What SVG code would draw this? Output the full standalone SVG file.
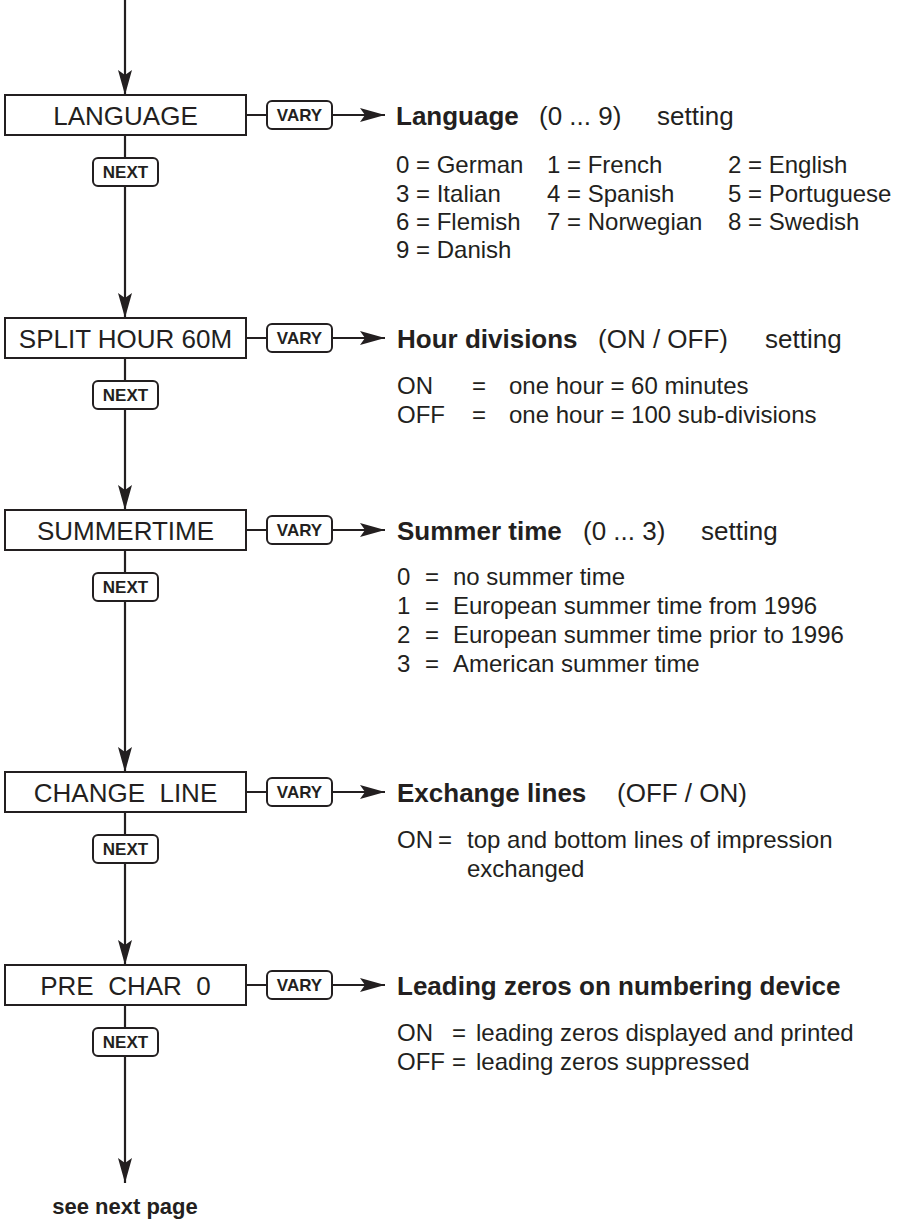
<svg xmlns="http://www.w3.org/2000/svg" width="900" height="1222" viewBox="0 0 900 1222">
<style>
text{font-family:"Liberation Sans",Arial,sans-serif;fill:#231f20}
.box{fill:#fff;stroke:#231f20;stroke-width:2}
.btn{fill:#fff;stroke:#231f20;stroke-width:2}
.bl{font-size:26px;text-anchor:middle}
.bt{font-size:17px;font-weight:bold;text-anchor:middle}
.h{font-size:26px}
.hb{font-size:26px;font-weight:bold}
.t{font-size:24px}
.c{stroke:#231f20;stroke-width:2.2;fill:none}
</style>
<defs>
<marker id="ah" viewBox="0 0 25 14" refX="25" refY="7" markerWidth="25" markerHeight="14" markerUnits="userSpaceOnUse" orient="auto">
<path d="M0,0 L25,7 L0,14 L5,7 Z" fill="#231f20"/>
</marker>
</defs>
<g id="connectors">
<line class="c" x1="125" y1="0" x2="125" y2="95" marker-end="url(#ah)"/>
<line class="c" x1="125" y1="135" x2="125" y2="318" marker-end="url(#ah)"/>
<line class="c" x1="125" y1="358" x2="125" y2="510" marker-end="url(#ah)"/>
<line class="c" x1="125" y1="550" x2="125" y2="772" marker-end="url(#ah)"/>
<line class="c" x1="125" y1="812" x2="125" y2="965" marker-end="url(#ah)"/>
<line class="c" x1="125" y1="1005" x2="125" y2="1183" marker-end="url(#ah)"/>
<line class="c" x1="246" y1="115" x2="385" y2="115" marker-end="url(#ah)"/>
<line class="c" x1="246" y1="338" x2="385" y2="338" marker-end="url(#ah)"/>
<line class="c" x1="246" y1="530" x2="385" y2="530" marker-end="url(#ah)"/>
<line class="c" x1="246" y1="792" x2="385" y2="792" marker-end="url(#ah)"/>
<line class="c" x1="246" y1="985" x2="385" y2="985" marker-end="url(#ah)"/>
</g>
<g id="language">
<rect class="box" x="5" y="95" width="241" height="40"/>
<text class="bl" x="125.5" y="125">LANGUAGE</text>
</g>
<g id="language-vary"><rect class="btn" x="267" y="101" width="65" height="28" rx="5"/><text class="bt" x="299.5" y="121">VARY</text></g>
<g id="language-next"><rect class="btn" x="93" y="158" width="65" height="28" rx="5"/><text class="bt" x="125.5" y="178">NEXT</text></g>
<g id="language-info">
<text class="h" x="396" y="125"><tspan class="hb">Language</tspan><tspan x="539">(0 ... 9)</tspan><tspan x="657">setting</tspan></text>
<text class="t" x="396" y="173">0 = German</text><text class="t" x="547" y="173">1 = French</text><text class="t" x="728" y="173">2 = English</text>
<text class="t" x="396" y="202">3 = Italian</text><text class="t" x="547" y="202">4 = Spanish</text><text class="t" x="728" y="202">5 = Portuguese</text>
<text class="t" x="396" y="230">6 = Flemish</text><text class="t" x="547" y="230">7 = Norwegian</text><text class="t" x="728" y="230">8 = Swedish</text>
<text class="t" x="396" y="258">9 = Danish</text>
</g>
<g id="split">
<rect class="box" x="5" y="318" width="241" height="40"/>
<text class="bl" x="125.5" y="348">SPLIT HOUR 60M</text>
</g>
<g id="split-vary"><rect class="btn" x="267" y="324" width="65" height="28" rx="5"/><text class="bt" x="299.5" y="344">VARY</text></g>
<g id="split-next"><rect class="btn" x="93" y="381" width="65" height="28" rx="5"/><text class="bt" x="125.5" y="401">NEXT</text></g>
<g id="split-info">
<text class="h" x="397" y="348"><tspan class="hb">Hour divisions</tspan><tspan x="598">(ON / OFF)</tspan><tspan x="765">setting</tspan></text>
<text class="t" x="397" y="394">ON</text><text class="t" x="472" y="394">=</text><text class="t" x="509" y="394">one hour = 60 minutes</text>
<text class="t" x="397" y="423">OFF</text><text class="t" x="472" y="423">=</text><text class="t" x="509" y="423">one hour = 100 sub-divisions</text>
</g>
<g id="summertime">
<rect class="box" x="5" y="510" width="241" height="40"/>
<text class="bl" x="125.5" y="540">SUMMERTIME</text>
</g>
<g id="summertime-vary"><rect class="btn" x="267" y="516" width="65" height="28" rx="5"/><text class="bt" x="299.5" y="536">VARY</text></g>
<g id="summertime-next"><rect class="btn" x="93" y="573" width="65" height="28" rx="5"/><text class="bt" x="125.5" y="593">NEXT</text></g>
<g id="summertime-info">
<text class="h" x="397" y="540"><tspan class="hb">Summer time</tspan><tspan x="583">(0 ... 3)</tspan><tspan x="701">setting</tspan></text>
<text class="t" x="397" y="585">0</text><text class="t" x="425" y="585">=</text><text class="t" x="453" y="585">no summer time</text>
<text class="t" x="397" y="614">1</text><text class="t" x="425" y="614">=</text><text class="t" x="453" y="614">European summer time from 1996</text>
<text class="t" x="397" y="643">2</text><text class="t" x="425" y="643">=</text><text class="t" x="453" y="643">European summer time prior to 1996</text>
<text class="t" x="397" y="672">3</text><text class="t" x="425" y="672">=</text><text class="t" x="453" y="672">American summer time</text>
</g>
<g id="changeline">
<rect class="box" x="5" y="772" width="241" height="40"/>
<text class="bl" x="125.5" y="802" xml:space="preserve">CHANGE  LINE</text>
</g>
<g id="changeline-vary"><rect class="btn" x="267" y="778" width="65" height="28" rx="5"/><text class="bt" x="299.5" y="798">VARY</text></g>
<g id="changeline-next"><rect class="btn" x="93" y="835" width="65" height="28" rx="5"/><text class="bt" x="125.5" y="855">NEXT</text></g>
<g id="changeline-info">
<text class="h" x="397" y="802"><tspan class="hb">Exchange lines</tspan><tspan x="617">(OFF / ON)</tspan></text>
<text class="t" x="397" y="848">ON</text><text class="t" x="438" y="848">=</text><text class="t" x="467" y="848">top and bottom lines of impression</text>
<text class="t" x="467" y="877">exchanged</text>
</g>
<g id="prechar">
<rect class="box" x="5" y="965" width="241" height="40"/>
<text class="bl" x="125.5" y="995" xml:space="preserve">PRE  CHAR  0</text>
</g>
<g id="prechar-vary"><rect class="btn" x="267" y="971" width="65" height="28" rx="5"/><text class="bt" x="299.5" y="991">VARY</text></g>
<g id="prechar-next"><rect class="btn" x="93" y="1028" width="65" height="28" rx="5"/><text class="bt" x="125.5" y="1048">NEXT</text></g>
<g id="prechar-info">
<text class="hb" x="397" y="995">Leading zeros on numbering device</text>
<text class="t" x="397" y="1041">ON</text><text class="t" x="452" y="1041">=</text><text class="t" x="476" y="1041">leading zeros displayed and printed</text>
<text class="t" x="397" y="1070">OFF</text><text class="t" x="452" y="1070">=</text><text class="t" x="476" y="1070">leading zeros suppressed</text>
</g>
<g id="next-page">
<text class="bt" x="125" y="1214" style="font-size:22px">see next page</text>
</g>
</svg>
